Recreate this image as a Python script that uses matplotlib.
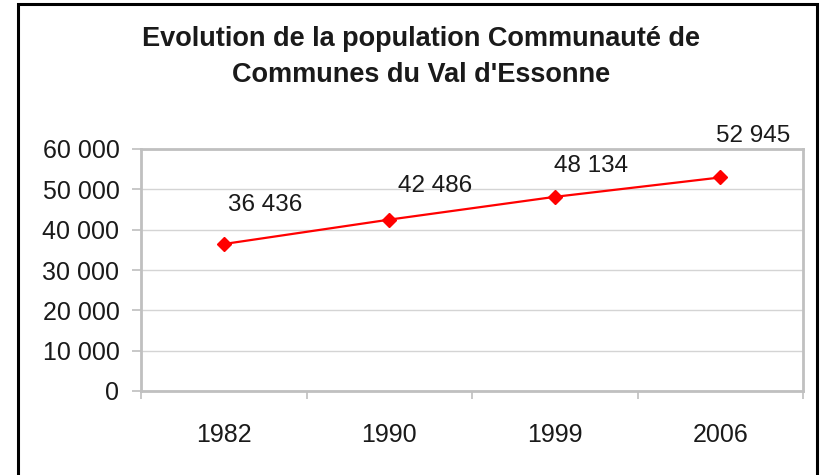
import matplotlib
matplotlib.use("Agg")
import matplotlib.pyplot as plt
from matplotlib.patches import Rectangle
from matplotlib.ticker import FixedLocator, NullFormatter, FuncFormatter

years = ["1982", "1990", "1999", "2006"]
population = [36436, 42486, 48134, 52945]
y_ticks = [0, 10000, 20000, 30000, 40000, 50000, 60000]
title = "Evolution de la population Communauté de\nCommunes du Val d'Essonne"

# label offsets in pixels (dx, dy up)
label_offsets_px = [(41, 39), (46, 34), (36, 31), (33, 41)]

W, H, DPI = 821, 475, 100
plt.rcParams['font.family'] = ['Liberation Sans', 'DejaVu Sans']
fig = plt.figure(figsize=(W / DPI, H / DPI), dpi=DPI)
fig.patch.set_facecolor('white')

# outer frame
fig.add_artist(Rectangle((18 / W, -0.05), (817 - 18) / W, 1 - 4 / H + 0.05,
                         transform=fig.transFigure, fill=False,
                         edgecolor='black', linewidth=2.2, zorder=10))

left, right, top, bottom = 141, 803, 149, 391
ax = fig.add_axes([left / W, 1 - bottom / H, (right - left) / W, (bottom - top) / H])

x = list(range(len(years)))
ax.plot(x, population, color='#ff0000', linewidth=1.6, marker='D',
        markersize=7.5, markeredgecolor='#ff0000', markerfacecolor='#ff0000',
        zorder=5, clip_on=False)

ax.set_xlim(-0.5, len(years) - 0.5)
ax.set_ylim(0, 60000)

fmt = lambda v: f"{int(v):,}".replace(",", " ")

for xi, v, (dx, dy) in zip(x, population, label_offsets_px):
    ax.annotate(fmt(v), (xi, v), xytext=(dx * 72 / DPI, dy * 72 / DPI),
                textcoords='offset points', ha='center', va='center',
                fontsize=17.5, color='#1a1a1a')

ax.set_yticks(y_ticks)
ax.yaxis.set_major_formatter(FuncFormatter(lambda v, p: fmt(v)))
ax.xaxis.set_major_locator(FixedLocator([i - 0.5 for i in range(len(years) + 1)]))
ax.xaxis.set_major_formatter(NullFormatter())
ax.xaxis.set_minor_locator(FixedLocator(x))
ax.set_xticklabels(years, minor=True)

ax.tick_params(axis='y', length=6.5, width=1.2, color='#bfbfbf', pad=9,
               labelsize=18, labelcolor='#1a1a1a')
ax.tick_params(axis='x', which='major', length=5.5, width=1.2, color='#bfbfbf')
ax.tick_params(axis='x', which='minor', length=0, pad=23, labelsize=18,
               labelcolor='#1a1a1a')

ax.grid(axis='y', color='#d4d4d4', linewidth=1.0)
ax.set_axisbelow(True)
for s in ax.spines.values():
    s.set_color('#c0c0c0')
    s.set_linewidth(2.0)

fig.text(421 / W, 1 - 57 / H, title, ha='center', va='center',
         fontsize=19.5, fontweight='bold', color='#1a1a1a', linespacing=1.45)

fig.savefig('out.png', dpi=DPI, facecolor='white')
